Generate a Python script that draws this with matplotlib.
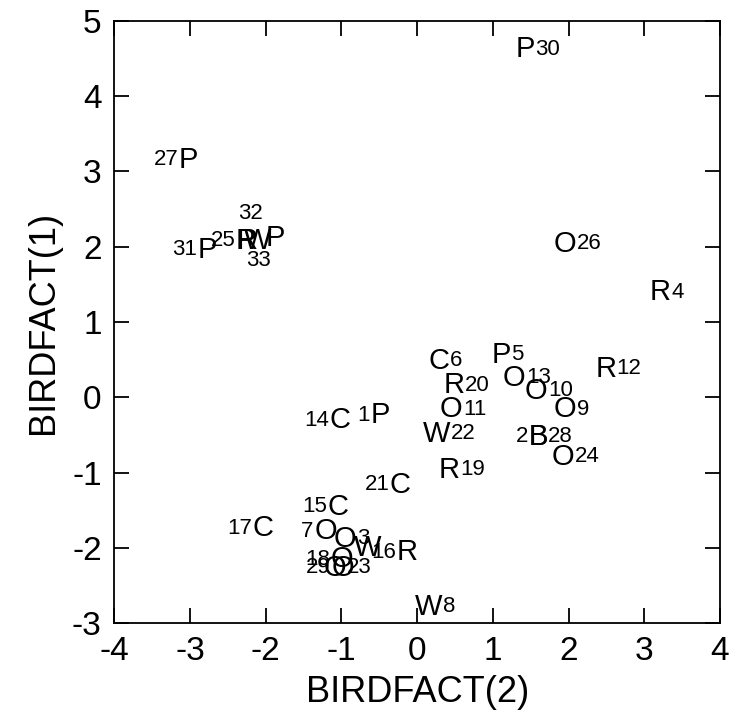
import numpy as np
import matplotlib
matplotlib.use("Agg")
import matplotlib.pyplot as plt

plt.rcParams['font.family'] = ['Liberation Sans', 'DejaVu Sans']
plt.rcParams['axes.unicode_minus'] = False

# plotting symbol, case label and factor scores (BIRDFACT(2) on x, BIRDFACT(1) on y)
symbols = ['P', 'B', 'O', 'R', 'P', 'C', 'O', 'W', 'O', 'O', 'O', 'R', 'O', 'C', 'C', 'R', 'C',
           'O', 'R', 'R', 'C', 'W', 'O', 'O', 'P', 'O', 'P', 'B', 'O', 'P', 'P', 'R', 'W', 'W', 'P']
labels = ['1', '2', '3', '4', '5', '6', '7', '8', '9', '10', '11', '12', '13', '14', '15', '16', '17',
          '18', '19', '20', '21', '22', '23', '24', '25', '26', '27', '28', '29', '30', '31', '32', '33', '', '']
fact2 = [-0.49, 1.60, -0.95, 3.21, 1.11, 0.29, -1.21, 0.15, 1.95, 1.57, 0.45, 2.49, 1.28, -1.02, -1.04,
         -0.13, -2.03, -0.99, 0.42, 0.49, -0.22, 0.26, -1.08, 1.93, -2.27, 1.95, -3.02, 1.60, -0.98,
         1.43, -2.77, -2.24, -2.10, -0.65, -1.87]
fact1 = [-0.21, -0.49, -1.85, 1.43, 0.60, 0.52, -1.75, -2.75, -0.13, 0.12, -0.13, 0.41, 0.29, -0.27,
         -1.42, -2.03, -1.71, -2.12, -0.93, 0.19, -1.13, -0.45, -2.23, -0.76, 2.11, 2.07, 3.19, -0.49,
         -2.23, 4.66, 1.99, 2.11, 2.11, -1.97, 2.15]

# where each case label sits relative to its symbol
sides = ['L', 'L', 'R', 'R', 'R', 'R', 'L', 'R', 'R', 'R', 'R', 'R', 'R', 'L', 'L', 'L', 'L',
         'L', 'R', 'R', 'L', 'R', 'R', 'R', 'L', 'R', 'L', 'R', 'L', 'R', 'L', 'T', 'B', 'R', 'R']

sym_size = 21
lab_size = 16
half_w = {'O': 11, 'P': 9, 'R': 10, 'W': 13, 'C': 10, 'B': 9}
sym_cap = sym_size / 72 * 100 * 0.716
lab_cap = lab_size / 72 * 100 * 0.716

fig = plt.figure(figsize=(7.37, 7.24), dpi=100)
ax = fig.add_axes([0.155, 0.1395, 0.822, 0.8315])
ax.set_xlim(-4, 4)
ax.set_ylim(-3, 5)
ax.set_xticks(np.arange(-4, 5))
ax.set_yticks(np.arange(-3, 6))
ax.tick_params(direction='in', length=11, width=1.3, top=True, right=True,
               labelsize=24, pad=9)
for s in ax.spines.values():
    s.set_linewidth(1.3)
ax.set_xlabel('BIRDFACT(2)', fontsize=26, labelpad=6)
ax.set_ylabel('BIRDFACT(1)', fontsize=26, labelpad=8)

for sym, lab, x, y, side in zip(symbols, labels, fact2, fact1, sides):
    ax.annotate(sym, (x, y), xytext=(0, -sym_cap / 2), textcoords='offset pixels',
                ha='center', va='baseline', fontsize=sym_size)
    if not lab:
        continue
    hw = half_w[sym]
    if side == 'R':
        off, ha = (hw + 1, -lab_cap / 2), 'left'
    elif side == 'L':
        off, ha = (-hw - 1, -lab_cap / 2), 'right'
    elif side == 'T':
        off, ha = (3, 27 - lab_cap / 2), 'center'
    else:
        off, ha = (0, -20 - lab_cap / 2), 'center'
    ax.annotate(lab, (x, y), xytext=off, textcoords='offset pixels',
                ha=ha, va='baseline', fontsize=lab_size)

fig.savefig('out.png', dpi=100)
